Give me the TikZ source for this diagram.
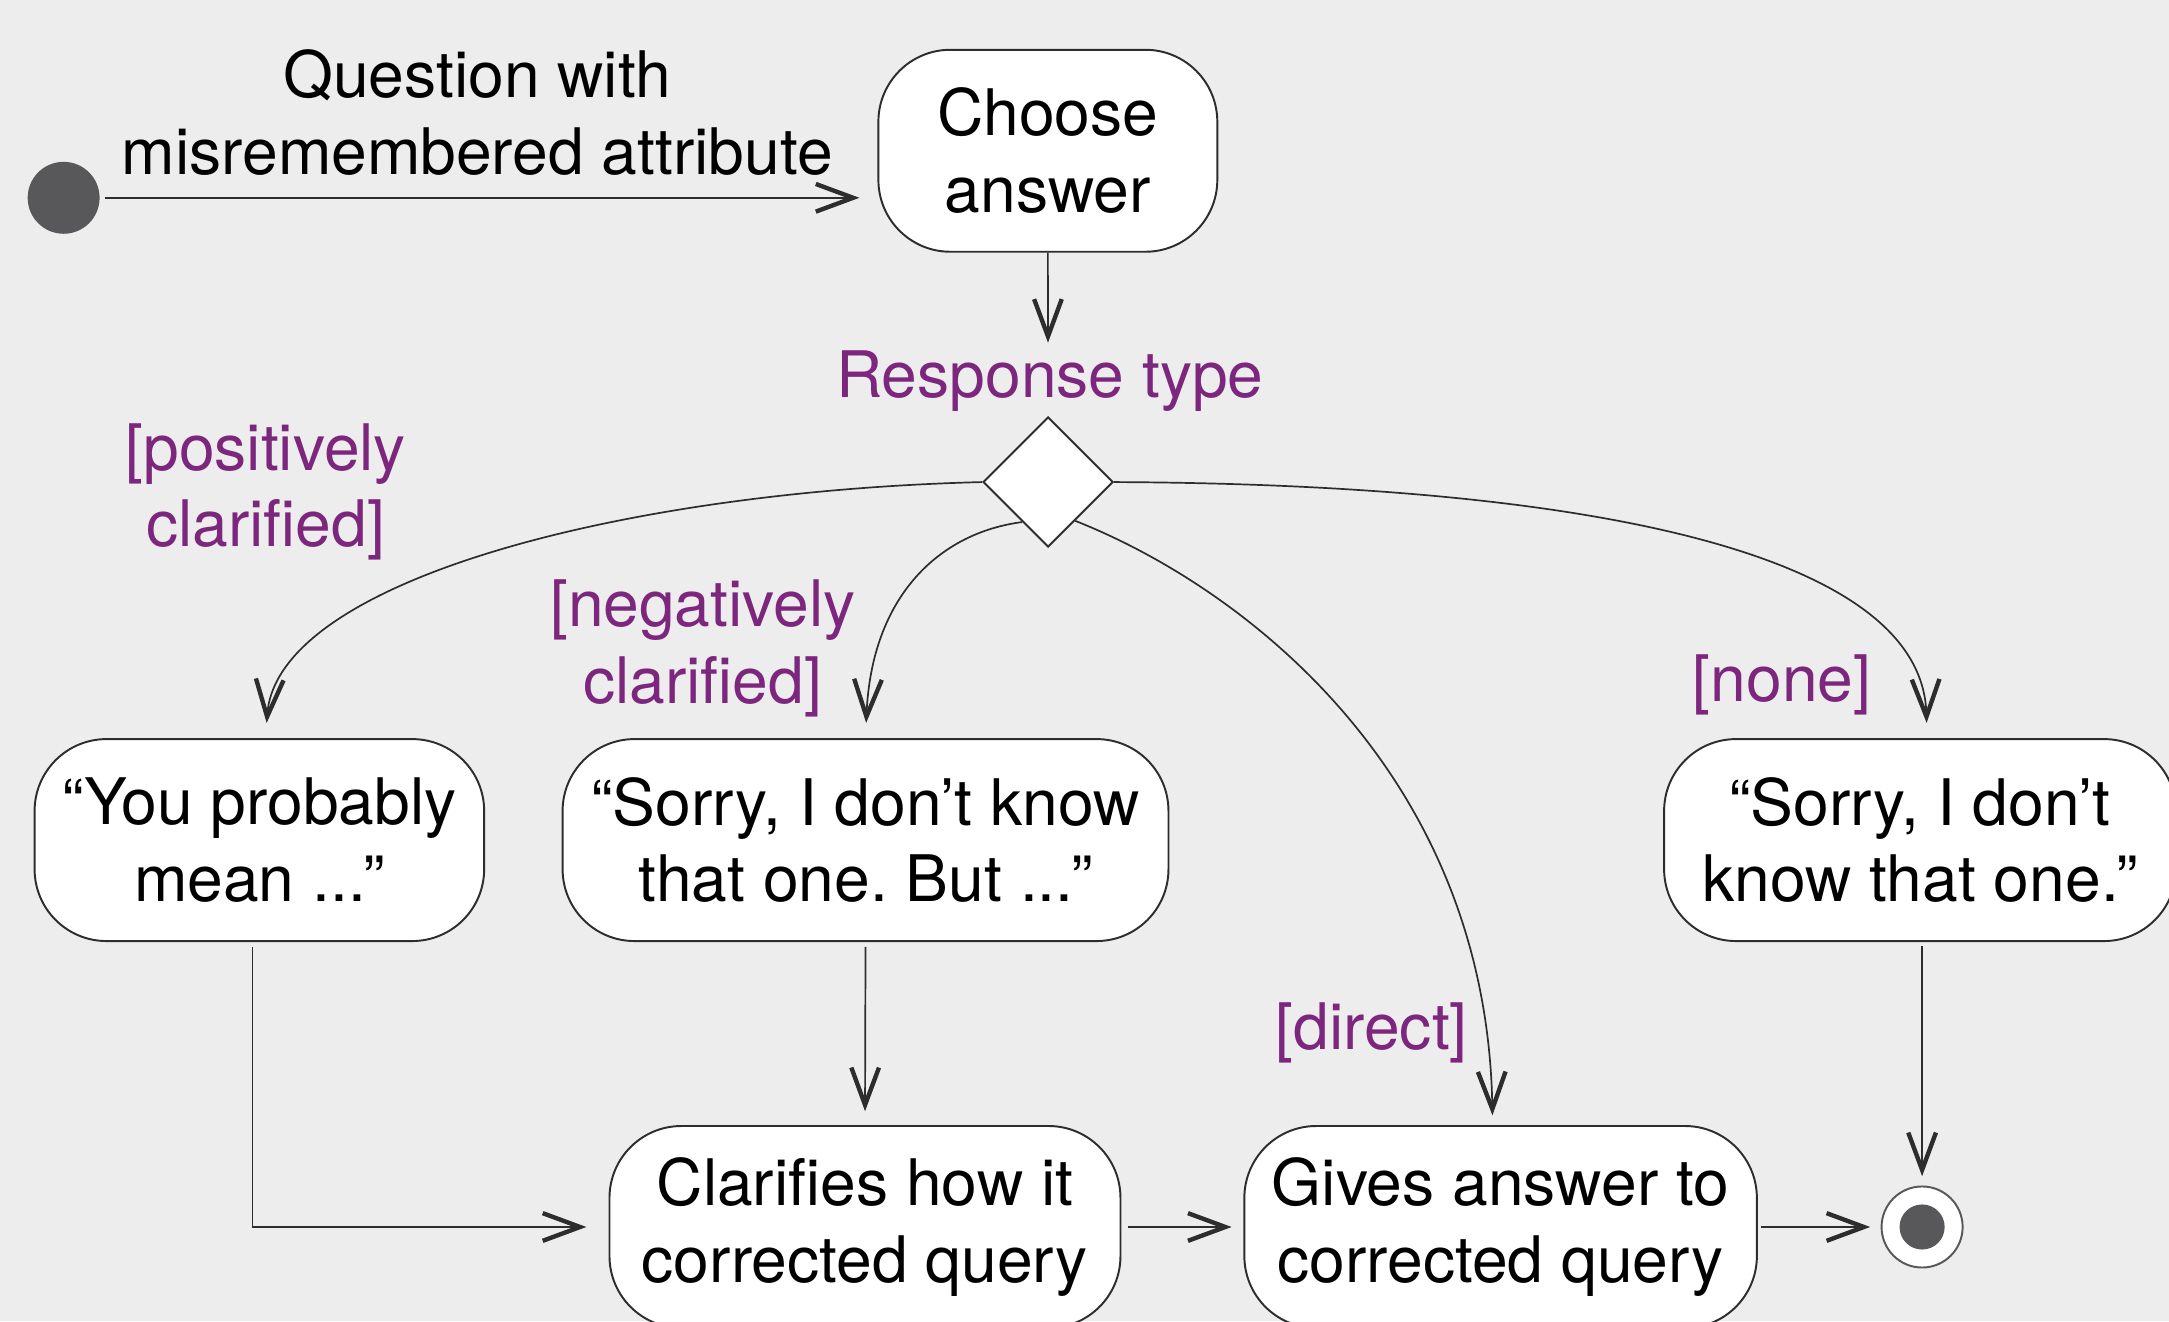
\documentclass[tikz,border=0pt]{standalone}
\usepackage{fontspec}
\setmainfont{TeX Gyre Heros}
\usetikzlibrary{arrows.meta,shapes.geometric}
\definecolor{bgc}{RGB}{237,237,237}
\definecolor{dkg}{RGB}{88,88,90}
\definecolor{lnc}{RGB}{45,45,45}
\definecolor{prp}{RGB}{125,38,125}
\frenchspacing

\begin{document}
\begin{tikzpicture}[font=\fontsize{13.2}{15.8}\selectfont]

\tikzstyle{act}=[draw=lnc,line width=0.4pt,fill=white,rounded corners=0.52cm,align=center,minimum height=1.46cm,inner sep=0pt]
\tikzstyle{lbl}=[align=center,inner sep=0pt]
\tikzstyle{grd}=[text=prp,inner sep=0pt]
\tikzstyle{flw}=[draw=lnc,line width=0.35pt,-{Straight Barb[length=0.27cm,width=0.2cm,line width=0.9pt]}]

\path[use as bounding box,fill=bgc] (0,0) rectangle (15.68,9.55);

\node[circle,fill=dkg,minimum size=0.52cm,inner sep=0pt] (start) at (0.46,8.12){};
\node[lbl] (qlab) at (3.45,8.735) {Question with\\misremembered attribute};
\node[act,minimum width=2.45cm] (choose) at (7.575,8.46) {Choose\\answer};
\node[grd,anchor=base] (rtype) at (7.59,6.68) {Response type};
\node[diamond,draw=lnc,fill=white,line width=0.4pt,minimum width=0.94cm,minimum height=0.94cm,inner sep=0pt] (resp) at (7.577,6.065){};

\node[act,minimum width=3.25cm] (you) at (1.875,3.477) {“You probably\\mean ...”};
\node[act,minimum width=4.38cm] (sorrybut) at (6.257,3.477) {“Sorry, I don’t know\\that one. But ...”};
\node[act,minimum width=3.70cm] (dunno) at (13.88,3.477) {“Sorry, I don’t\\know that one.”};
\node[act,minimum width=3.694cm] (clar) at (6.253,0.68) {Clarifies how it\\corrected query};
\node[act,minimum width=3.705cm] (gives) at (10.848,0.68) {Gives answer to\\corrected query};
\node[circle,draw=dkg,fill=white,line width=0.4pt,minimum size=0.586cm,inner sep=0pt] (final) at (13.895,0.68){};
\node[circle,fill=dkg,minimum size=0.326cm,inner sep=0pt] (finaldot) at (final){};

\node[grd,align=center] (poslab) at (1.92,5.994) {[positively\\clarified]};
\node[grd,align=center] (neglab) at (5.08,4.863) {[negatively\\clarified]};
\node[grd,anchor=base] (nonelab) at (12.883,4.477) {[none]};
\node[grd,anchor=base] (dirlab) at (9.916,1.965) {[direct]};

\draw[flw,shorten <=0.03cm,shorten >=0.13cm] (start.east) -- (start.east -| choose.west);
\draw[flw,shorten >=0.53cm] (choose.south) -- (resp.north);
\draw[flw,shorten >=0.11cm] (resp.west) .. controls (4.50,6.00) and (2.00,5.35) .. ([xshift=0.45mm]you.north);
\draw[flw,shorten >=0.11cm] (resp.237) .. controls (6.80,5.70) and (6.30,5.25) .. (sorrybut.north);
\draw[flw,shorten >=0.07cm] (resp.305) .. controls (9.00,5.30) and (10.75,3.95) .. ([xshift=-0.58mm]gives.north);
\draw[flw,shorten >=0.11cm] (resp.east) .. controls (11.50,6.05) and (13.90,5.55) .. ([xshift=0.5mm]dunno.north);

\draw[flw,shorten <=0.035cm,shorten >=0.16cm] ([xshift=-0.5mm]you.south) |- (clar.west);
\draw[flw,shorten <=0.035cm,shorten >=0.1cm] (sorrybut.south) -- (clar.north);
\draw[flw,shorten <=0.045cm,shorten >=0.085cm] (clar.east) -- (gives.west);
\draw[flw,shorten <=0.02cm,shorten >=0.075cm] (gives.east) -- (final.west);
\draw[flw,shorten <=0.03cm,shorten >=0.067cm] (final.north |- dunno.south) -- (final.north);

\end{tikzpicture}
\end{document}
